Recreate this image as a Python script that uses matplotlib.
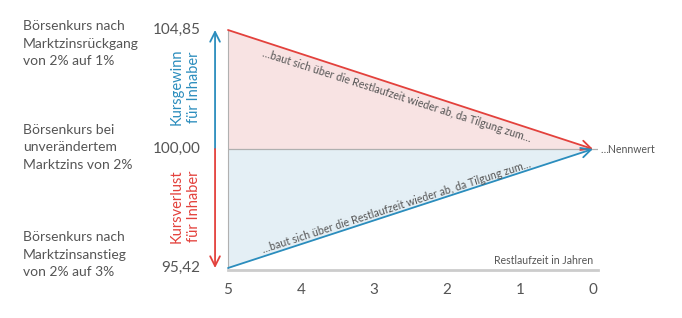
import numpy as np
import matplotlib.pyplot as plt

plt.rcParams['font.family'] = ['Lato', 'DejaVu Sans']

# data
years = [5, 4, 3, 2, 1, 0]
kurs_start = [104.85, 100.00, 95.42]
nennwert = 100.00
y_labels = ['104,85', '100,00', '95,42']
left_texts = ['Börsenkurs nach\nMarktzinsrückgang\nvon 2% auf 1%',
              'Börsenkurs bei\nunverändertem\nMarktzins von 2%',
              'Börsenkurs nach\nMarktzinsanstieg\nvon 2% auf 3%']
diag_text = '…baut sich über die Restlaufzeit wieder ab, da Tilgung zum…'

red = '#e3413c'
blue = '#2b8dbd'
pink = '#f8e3e3'
lightblue = '#e4eff5'
gray_txt = '#555555'

up = kurs_start[0] - nennwert
dn = nennwert - kurs_start[2]


# schematic scale: gain and loss get the same height
def fwd(y):
    y = np.asarray(y, dtype=float)
    return np.where(y >= nennwert, (y - nennwert) / up, (y - nennwert) / dn)


def inv(t):
    t = np.asarray(t, dtype=float)
    return np.where(t >= 0, nennwert + t * up, nennwert + t * dn)


W, H = 682, 318
fig = plt.figure(figsize=(W / 100, H / 100), dpi=100)
ax = fig.add_axes([228 / W, (H - 270) / H, 370 / W, 242 / H])
ax.set_yscale('function', functions=(fwd, inv))
ax.set_xlim(5, -0.07)
ax.set_ylim(kurs_start[2] - 2 / 119 * dn, kurs_start[0] + 2 / 119 * up)
for s in ['top', 'right']:
    ax.spines[s].set_visible(False)
ax.spines['left'].set_color('#b0b0b0')
ax.spines['left'].set_linewidth(0.8)
ax.spines['left'].set_bounds(kurs_start[2], kurs_start[0])
ax.spines['bottom'].set_color('#cccccc')
ax.spines['bottom'].set_linewidth(2)
ax.set_yticks([])
ax.minorticks_off()
ax.set_xticks(years)
ax.set_xticklabels([str(y) for y in years], fontsize=11, color=gray_txt)
ax.tick_params(axis='x', length=0, pad=9)

# filled areas
x2 = [5, 0]
ax.fill_between(x2, [kurs_start[0], nennwert], nennwert, color=pink, lw=0)
ax.fill_between(x2, [kurs_start[2], nennwert], nennwert, color=lightblue, lw=0)
ax.axhline(nennwert, color='#b0b0b0', lw=0.9)

# diagonal arrows
for y0, c in [(kurs_start[0], red), (kurs_start[2], blue)]:
    ax.annotate('', xy=(0, nennwert), xytext=(5, y0),
                arrowprops=dict(arrowstyle='->,head_length=0.7,head_width=0.35',
                                color=c, lw=1.3, shrinkA=0, shrinkB=0))

xs = 4.53
frac = xs / 5
ax.annotate(diag_text, xy=(xs, nennwert + up * frac), xytext=(0, -12),
            textcoords='offset pixels', rotation=-17.8, rotation_mode='anchor',
            ha='left', va='center', fontsize=7.7, color=gray_txt)
ax.annotate(diag_text, xy=(xs, nennwert - dn * frac), xytext=(0, 7),
            textcoords='offset pixels', rotation=17.8, rotation_mode='anchor',
            ha='left', va='center', fontsize=7.7, color=gray_txt)
ax.text(-0.11, nennwert, '…Nennwert', ha='left', va='center',
        fontsize=7.6, color=gray_txt)
ax.annotate('Restlaufzeit in Jahren', xy=(0.0, kurs_start[2]), xytext=(0, 8),
            textcoords='offset pixels', ha='right', va='center',
            fontsize=7.6, color=gray_txt)

# y value labels and left descriptions
yt = ax.get_yaxis_transform()
for y, lab in zip(kurs_start, y_labels):
    ax.text(-0.075, y, lab, transform=yt, ha='right', va='center',
            fontsize=11, color=gray_txt, clip_on=False)
for y, desc, va, dy in zip(kurs_start, left_texts, ['top', 'center', 'bottom'],
                           [10, 2, -10]):
    ax.annotate(desc, xy=(-0.555, y), xycoords=yt, xytext=(0, dy),
                textcoords='offset pixels', ha='left', va=va, fontsize=10,
                color=gray_txt, linespacing=1.55, annotation_clip=False)

# vertical arrows
for y1, c in [(kurs_start[0], blue), (kurs_start[2], red)]:
    ax.annotate('', xy=(-0.035, y1), xytext=(-0.035, nennwert),
                xycoords=yt, textcoords=yt, annotation_clip=False,
                arrowprops=dict(arrowstyle='->,head_length=0.7,head_width=0.35',
                                color=c, lw=1.3, shrinkA=0, shrinkB=0))
ax.text(-0.115, nennwert + up * 0.52, 'Kursgewinn\nfür Inhaber', transform=yt,
        rotation=90, ha='center', va='center', fontsize=10.5, color=blue,
        linespacing=1.3, clip_on=False)
ax.text(-0.115, nennwert - dn * 0.48, 'Kursverlust\nfür Inhaber', transform=yt,
        rotation=90, ha='center', va='center', fontsize=10.5, color=red,
        linespacing=1.3, clip_on=False)

fig.savefig('out.png', dpi=100)
